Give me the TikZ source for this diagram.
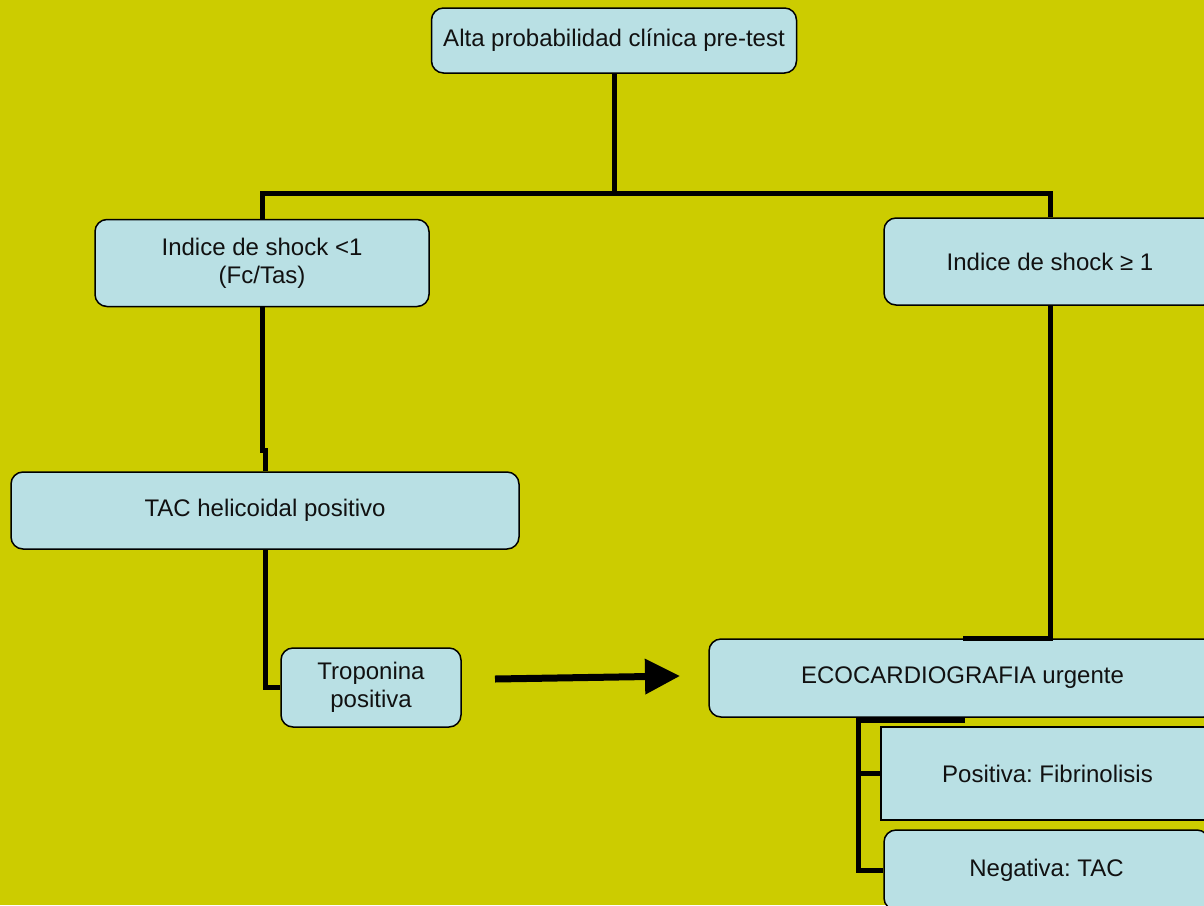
\documentclass[tikz,border=0pt]{standalone}
\usepackage{fontspec}
\setmainfont{Liberation Sans}
\usetikzlibrary{arrows.meta}
\definecolor{bgolive}{RGB}{204,204,0}
\definecolor{boxblue}{RGB}{185,224,228}
\definecolor{inktext}{RGB}{17,17,17}
\frenchspacing

\begin{document}
\begin{tikzpicture}[x=1pt,y=-1pt,
  box/.style={draw=black, line width=1.5pt, fill=boxblue, rounded corners=12pt,
    inner sep=0pt, align=center, text=inktext,
    font=\fontsize{24}{28}\selectfont},
  sqbox/.style={box, rounded corners=0pt},
  conn/.style={draw=black, line width=5pt, line join=miter},
  bigarrow/.style={draw=black, line width=7pt, -{Triangle[length=35pt,width=34pt]}}]

\useasboundingbox (0,0) rectangle (1204,905);
\fill[bgolive] (0,0) rectangle (1204,905);

\begin{scope}
\clip (0,0) rectangle (1204,905);

% decision boxes
\node[box, minimum width=365pt, minimum height=65pt] (top) at (614,40.5)
  {Alta probabilidad clínica pre-test};
\node[box, minimum width=334pt, minimum height=87pt] (shockL) at (262,263)
  {Indice de shock <1\\(Fc/Tas)};
\node[box, minimum width=332pt, minimum height=87pt] (shockR) at (1050,261.5)
  {Indice de shock ≥ 1};
\node[box, minimum width=508pt, minimum height=77pt] (tac) at (265,510.5)
  {TAC helicoidal positivo};
\node[box, minimum width=180pt, minimum height=79pt] (trop) at (371,687.5)
  {Troponina\\positiva};
\node[box, minimum width=507pt, minimum height=78pt] (eco) at (962.5,678)
  {ECOCARDIOGRAFIA urgente};
\node[sqbox, minimum width=333pt, minimum height=93pt] (pos) at (1047.5,773.5)
  {Positiva: Fibrinolisis};
\node[box, minimum width=325pt, minimum height=80pt] (neg) at (1046.5,870)
  {Negativa: TAC};

% tree connectors
\coordinate (hub) at (614,193);
\draw[conn] (top.south) -- (top.south |- hub);
\draw[conn] (shockL.north) |- (hub) -| (shockR.north);
\draw[conn] (shockL.south) -- ++(0,143) -| (tac.north);
\draw[conn] (tac.south) |- (trop.west);
\draw[conn] (shockR.south) |- (eco.north);
\coordinate (split) at (858,720);
\draw[conn] (eco.south) -- (eco.south |- split) -- (split) |- (pos.west);
\draw[conn] (split) |- (neg.west);

% link from troponina to echocardiography
\coordinate (arrS) at (495,679);
\coordinate (arrE) at (680,676);
\draw[bigarrow] (arrS) -- (arrE);
\end{scope}
\end{tikzpicture}
\end{document}
